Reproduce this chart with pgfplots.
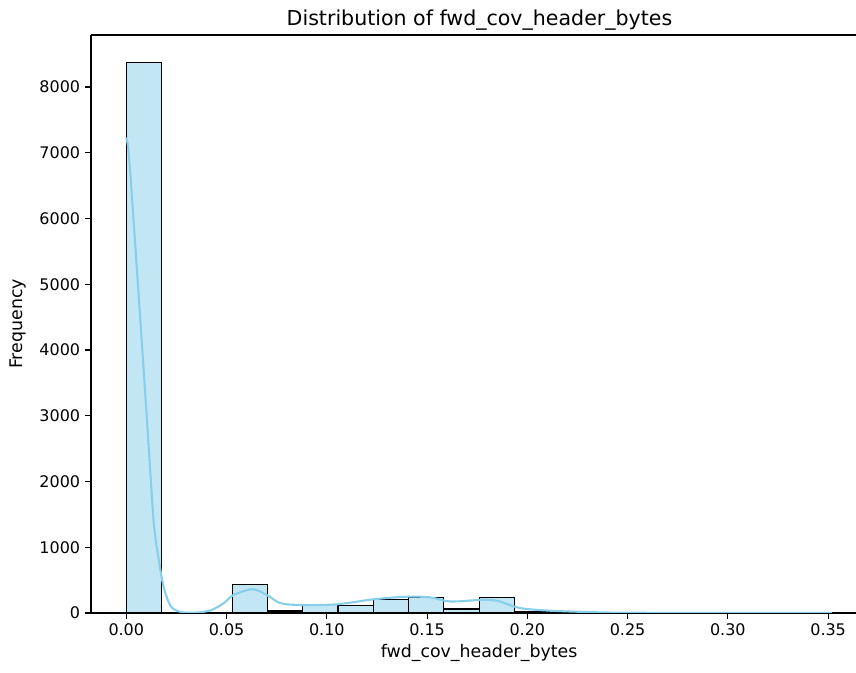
\documentclass[border=0pt]{standalone}
\usepackage{fontspec}
\setmainfont{DejaVu Sans}
\usepackage{pgfplots}
\pgfplotsset{compat=1.18}
\definecolor{skyblue}{RGB}{135,206,235}
\definecolor{barfill}{RGB}{195,230,245}
\begin{document}
\begin{tikzpicture}[x=1pt,y=1pt]
\begin{axis}[
  at={(0,0)}, anchor=south west,
  scale only axis,
  width=550.8pt, height=416.16pt,
  xmin=-0.0176, xmax=0.3639,
  ymin=0, ymax=8791,
  axis x line*=bottom, axis y line*=left,
  axis line style={black, line width=0.8pt},
  tick align=outside,
  major tick length=4.3pt,
  every tick/.style={black, line width=0.8pt},
  xtick={0,0.05,0.1,0.15,0.2,0.25,0.3,0.35},
  ytick={0,1000,2000,3000,4000,5000,6000,7000,8000},
  x tick label style={/pgf/number format/.cd, fixed, fixed zerofill, precision=2, assume math mode=true},
  y tick label style={/pgf/number format/.cd, 1000 sep={}, assume math mode=true},
  scaled x ticks=false, scaled y ticks=false,
  tick label style={font=\fontsize{11.5}{13}\selectfont},
  xlabel={fwd\_cov\_header\_bytes},
  ylabel={Frequency},
  every axis x label/.style={at={(axis description cs:0.5,0)}, anchor=north, inner sep=0pt, yshift=-22pt, xshift=4pt, font=\fontsize{12.5}{14}\selectfont},
  every axis y label/.style={at={(axis description cs:-0.0948,0.5)}, anchor=center, rotate=90, inner sep=0pt, font=\fontsize{12.5}{14}\selectfont},
  title={Distribution of fwd\_cov\_header\_bytes},
  every axis title/.style={at={(axis description cs:0.5,1)}, anchor=base, inner sep=0pt, yshift=7pt, xshift=4.3pt, font=\fontsize{14.8}{16}\selectfont},
  clip=true,
  after end axis/.code={\draw[black, line width=0.8pt] (rel axis cs:0,1) -- (rel axis cs:1,1);},
]
\addplot[ybar interval, fill=barfill, draw=black, line width=0.8pt] coordinates {
(0.0000,8370) (0.0176,0) (0.0352,10) (0.0528,430) (0.0704,30)
(0.0880,128) (0.1056,118) (0.1232,200) (0.1408,242) (0.1584,60)
(0.1760,240) (0.1936,25) (0.2112,12) (0.2288,8) (0.2464,2)
(0.2640,1) (0.2816,1) (0.2992,0) (0.3168,0) (0.3344,1) (0.3520,1)
};
\addplot[skyblue, line width=1.5pt, smooth, tension=0.5] coordinates {
(0,7230) (0.0012,7000) (0.0036,5980) (0.0070,4460) (0.0103,2940)
(0.0136,1410) (0.0160,850) (0.0186,400) (0.0220,110) (0.0260,25)
(0.0300,6) (0.0350,6) (0.0420,40) (0.0485,147) (0.0535,274)
(0.0630,362) (0.0701,274) (0.0768,150) (0.0867,122) (0.1050,132)
(0.1232,208) (0.1400,248) (0.1515,238) (0.1615,175) (0.1765,198)
(0.1848,187) (0.1964,75) (0.2114,35) (0.2300,15) (0.2460,5)
(0.2800,2) (0.3520,0)
};
\end{axis}
\pgfresetboundingbox
\useasboundingbox (-65.52pt,-43.2pt) rectangle (550.8pt,441.36pt);
\end{tikzpicture}
\end{document}
